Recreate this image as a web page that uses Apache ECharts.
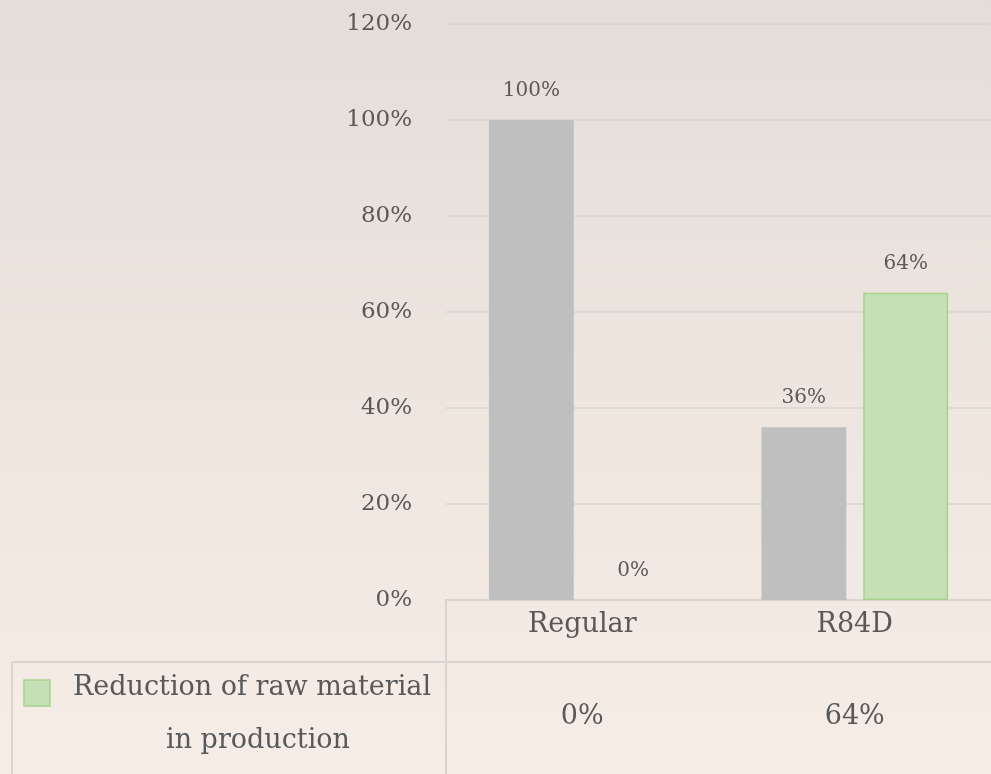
<!DOCTYPE html>
<html>
<head>
<meta charset="utf-8">
<script src="https://cdn.jsdelivr.net/npm/echarts@6/dist/echarts.min.js"></script>
<style>
html,body{margin:0;padding:0;width:991px;height:774px;overflow:hidden;}
#c{width:991px;height:774px;}
</style>
</head>
<body>
<div id="c"></div>
<script>
var categories = ['Regular', 'R84D'];
var seriesNames = ['Raw material used', 'Reduction of raw material\nin production'];
var grayValues = [100, 36];
var greenValues = [0, 64];
var yTicks = [0, 20, 40, 60, 80, 100, 120];

var FONT = 'DejaVu Serif';
var TXT = '#595959';
var chart = echarts.init(document.getElementById('c'), null, {renderer: 'canvas'});
var legendLines = seriesNames[1].split('\n');

chart.setOption({
  backgroundColor: {
    type: 'linear', x: 0, y: 0, x2: 0, y2: 1,
    colorStops: [{offset: 0, color: '#e5ddd7'}, {offset: 1, color: '#f5ede6'}]
  },
  animation: false,
  grid: {left: 446, top: 24, right: -1, bottom: 174, containLabel: false},
  xAxis: {
    type: 'category',
    data: categories,
    axisLine: {show: true, lineStyle: {color: '#d9d4cf', width: 2}},
    axisTick: {show: false},
    axisLabel: {
      margin: 2,
      formatter: function (v, i) {
        return '{c|' + v + '}\n{v|' + greenValues[i] + '%}';
      },
      rich: {
        c: {fontFamily: FONT, fontSize: 27, color: TXT, lineHeight: 46},
        v: {fontFamily: FONT, fontSize: 27, color: TXT, lineHeight: 138}
      }
    }
  },
  yAxis: {
    type: 'value',
    min: yTicks[0], max: yTicks[yTicks.length - 1], interval: 20,
    axisLine: {show: false},
    axisTick: {show: false},
    splitLine: {lineStyle: {color: '#d9d4cf', width: 1.5}},
    axisLabel: {
      margin: 34,
      fontFamily: FONT, fontSize: 23, color: TXT,
      formatter: function (v) { return v + '%'; }
    }
  },
  series: [
    {
      name: seriesNames[0], type: 'bar', data: grayValues,
      barGap: '20%', barCategoryGap: '31.5%',
      itemStyle: {color: '#bfbfbf'},
      label: {show: true, position: 'top', distance: 19, fontFamily: FONT, fontSize: 20, color: TXT,
        formatter: function (p) { return p.value + '%'; }}
    },
    {
      name: seriesNames[1], type: 'bar',
      data: greenValues.map(function (v) {
        return v === 0 ? {value: v, itemStyle: {borderWidth: 0}} : {value: v};
      }),
      itemStyle: {color: '#c5e0b4', borderColor: '#a9d18e', borderWidth: 1.5},
      label: {show: true, position: 'top', distance: 19, fontFamily: FONT, fontSize: 20, color: TXT,
        formatter: function (p) { return p.value + '%'; }}
    }
  ],
  graphic: [
    {type: 'line', shape: {x1: 446, y1: 600, x2: 446, y2: 774}, style: {stroke: '#d9d4cf', lineWidth: 2}},
    {type: 'line', shape: {x1: 12, y1: 662, x2: 991, y2: 662}, style: {stroke: '#d9d4cf', lineWidth: 2}},
    {type: 'line', shape: {x1: 12, y1: 662, x2: 12, y2: 774}, style: {stroke: '#d9d4cf', lineWidth: 2}},
    {type: 'rect', shape: {x: 24, y: 680, width: 26, height: 26},
      style: {fill: '#c5e0b4', stroke: '#a9d18e', lineWidth: 1.5}},
    {type: 'text', x: 252, y: 688, style: {text: legendLines[0], font: '27px "DejaVu Serif"', fill: TXT,
      textAlign: 'center', textVerticalAlign: 'middle'}},
    {type: 'text', x: 258, y: 741, style: {text: legendLines[1], font: '27px "DejaVu Serif"', fill: TXT,
      textAlign: 'center', textVerticalAlign: 'middle'}}
  ]
});
</script>
</body>
</html>
